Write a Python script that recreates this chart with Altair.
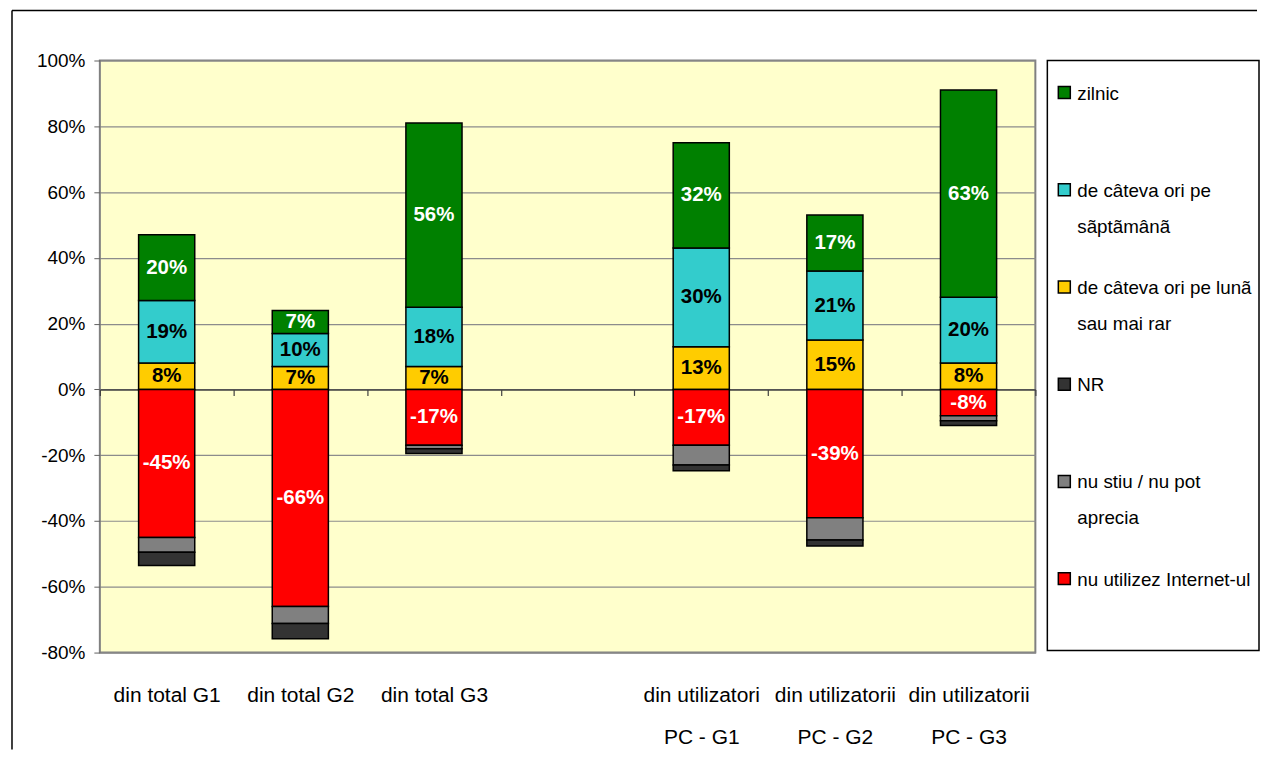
import altair as alt
import pandas as pd

FONT = "Liberation Sans, Arial, sans-serif"

categories = ["din total G1", "din total G2", "din total G3", " ",
              "din utilizatori|PC - G1", "din utilizatorii|PC - G2", "din utilizatorii|PC - G3"]

series_names = ["zilnic", "de câteva ori pe|sãptãmânã", "de câteva ori pe lunã|sau mai rar",
                "NR", "nu stiu / nu pot|aprecia", "nu utilizez Internet-ul"]
series_colors = ["#008000", "#33CCCC", "#FFCC00", "#333333", "#808080", "#FF0000"]

# values in %, per category (None = empty slot)
zilnic = [20, 7, 56, None, 32, 17, 63]
saptamana = [19, 10, 18, None, 30, 21, 20]
luna = [8, 7, 7, None, 13, 15, 8]
nu_utilizez = [-45, -66, -17, None, -17, -39, -8]
nu_stiu = [-4.5, -5.2, -1, None, -6, -6.8, -1.5]
nr = [-4, -4.6, -1.5, None, -1.7, -1.8, -1.5]

pos_stack = [(series_names[2], luna, True, "black"),
             (series_names[1], saptamana, True, "black"),
             (series_names[0], zilnic, True, "white")]
neg_stack = [(series_names[5], nu_utilizez, True, "white"),
             (series_names[4], nu_stiu, False, ""),
             (series_names[3], nr, False, "")]

rows = []
for i, cat in enumerate(categories):
    for stack in (pos_stack, neg_stack):
        base = 0.0
        for name, vals, show, tcol in stack:
            v = vals[i]
            if v is None:
                continue
            rows.append({"cat": cat, "series": name, "y0": base, "y1": base + v,
                         "mid": base + v / 2, "label": f"{v:.0f}%", "show": show, "tcolor": tcol})
            base += v
df = pd.DataFrame(rows)
df_lab = df[df["show"]].copy()
df_cats = pd.DataFrame({"cat": categories, "zero": [0] * len(categories)})

W, H = 937, 593
ZERO_OFFSET = -H * 80 / 180

xscale = alt.Scale(domain=categories, paddingInner=0.58, paddingOuter=0.29)
yscale = alt.Scale(domain=[-80, 100], nice=False)

# zero line + category boundary ticks (Excel-like axis crossing at 0)
zero_axis = alt.Chart(df_cats).mark_point(opacity=0).encode(
    x=alt.X("cat:N", scale=alt.Scale(domain=categories, paddingInner=0, paddingOuter=0),
            axis=alt.Axis(orient="bottom", title=None, labels=False, ticks=True, tickBand="extent",
                          tickSize=6, tickColor="#404040", tickWidth=1.2, domainColor="#404040",
                          domainWidth=1.5, offset=ZERO_OFFSET, grid=False)),
    y=alt.Y("zero:Q", scale=yscale),
)

bars = alt.Chart(df).mark_bar(stroke="black", strokeWidth=1.5).encode(
    x=alt.X("cat:N", scale=xscale, axis=None),
    y=alt.Y("y0:Q", scale=yscale,
            axis=alt.Axis(title=None, values=list(range(-80, 101, 20)), labelExpr="datum.value + '%'",
                          grid=True, gridColor="#8c8c8c", gridWidth=1.2, tickSize=6,
                          tickColor="#606060", domain=False, labelFontSize=19, labelFont=FONT,
                          labelColor="black", labelPadding=9)),
    y2="y1:Q",
    color=alt.Color("series:N", scale=alt.Scale(domain=series_names, range=series_colors), legend=None),
)

texts = alt.Chart(df_lab).mark_text(font=FONT, fontSize=20.5, fontWeight="bold").encode(
    x=alt.X("cat:N", scale=xscale,
            axis=alt.Axis(orient="bottom", title=None, ticks=False, domain=False,
                          labelExpr="split(datum.label, '|')", labelFontSize=21, labelFont=FONT,
                          labelPadding=32, labelLineHeight=42, labelColor="black", labelAngle=0,
                          labelOverlap=False, labelLimit=0)),
    y=alt.Y("mid:Q", scale=yscale),
    text="label:N",
    color=alt.Color("tcolor:N", scale=None),
)

frame_df = pd.DataFrame({"k": [0]})
frame_left = alt.Chart(frame_df).mark_rule(color="black", strokeWidth=1.5).encode(
    x=alt.value(-88), y=alt.value(-50), y2=alt.value(690))
frame_top = alt.Chart(frame_df).mark_rule(color="black", strokeWidth=1.5).encode(
    x=alt.value(-88), x2=alt.value(1159), y=alt.value(-50))

main = alt.layer(frame_left, frame_top, zero_axis, bars, texts).resolve_scale(
    x="independent").resolve_axis(x="independent").properties(
    width=W, height=H,
    view=alt.ViewBackground(fill="#FFFFCC", stroke="#808080", strokeWidth=2),
)

leg_df = pd.DataFrame({"name": series_names, "idx": list(range(len(series_names))), "col": series_colors})
legscale = alt.Scale(domain=[-0.33, 5.74], reverse=True, nice=False, zero=False)

leg_sym = alt.Chart(leg_df).mark_square(size=144, stroke="black", strokeWidth=1.5, opacity=1).encode(
    x=alt.value(17),
    y=alt.Y("idx:Q", scale=legscale, axis=None),
    fill=alt.Fill("col:N", scale=None),
)
leg_txt = alt.Chart(leg_df).mark_text(align="left", baseline="alphabetic", lineBreak="|", lineHeight=36,
                                      fontSize=18.8, font=FONT, dy=7, color="black").encode(
    x=alt.value(30),
    y=alt.Y("idx:Q", scale=legscale, axis=None),
    text="name:N",
)
legend = alt.layer(leg_sym, leg_txt).properties(
    width=212, height=591,
    view=alt.ViewBackground(fill="white", stroke="black", strokeWidth=1.5),
)

chart = alt.hconcat(main, legend, spacing=12, bounds="flush").properties(
    padding={"left": 2, "top": 0, "right": 0, "bottom": 0},
    background="white",
).configure_view(strokeWidth=1.5)

chart.save("out.html", embed_options={"renderer": "svg", "actions": False})
